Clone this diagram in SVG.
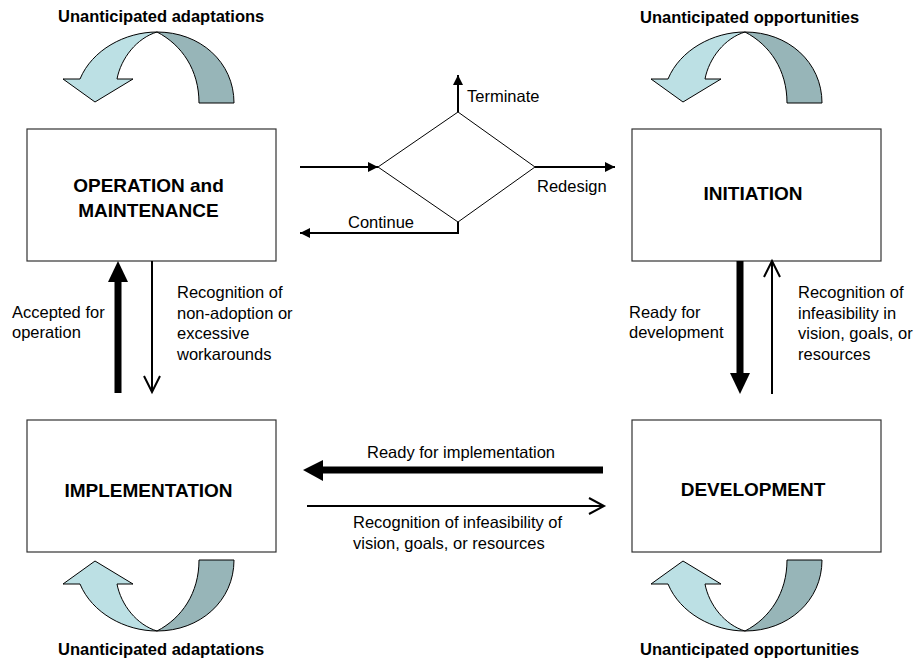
<svg xmlns="http://www.w3.org/2000/svg" xmlns:xlink="http://www.w3.org/1999/xlink" width="914" height="670" viewBox="0 0 914 670">
<style>
.box{fill:#fff;stroke:#333;stroke-width:1.2}
.bt{font-family:"Liberation Sans",Arial,sans-serif;font-weight:bold;font-size:19px;fill:#000;text-anchor:middle}
.lt{font-family:"Liberation Sans",Arial,sans-serif;font-size:16.5px;fill:#000}
.ht{font-family:"Liberation Sans",Arial,sans-serif;font-weight:bold;font-size:16.5px;fill:#000}
.ln{fill:none;stroke:#000;stroke-width:2}
.thin{fill:none;stroke:#000;stroke-width:1}
.fill{fill:#000;stroke:none}
.light{fill:#bce0e4;stroke:#000;stroke-width:1;stroke-linejoin:round}
.dark{fill:#97b5b8;stroke:#000;stroke-width:1;stroke-linejoin:round}
</style>
<defs>
<marker id="ah" markerUnits="userSpaceOnUse" markerWidth="10" markerHeight="10" refX="10" refY="5" orient="auto">
<path d="M0,0 L10,5 L0,10 Z" fill="#000"/>
</marker>
<g id="curl">
<path class="dark" d="M157,32 C200,32 234,62 234,103 L199,103 C199,70 182,45 157,32 Z"/>
<path class="light" d="M95,102 L63,79 L80,79 C92,50 125,32 157,32 C137,38 121,58 117,79 L133,79 Z"/>
</g>
</defs>

<g id="loop-top-left">
<use xlink:href="#curl"/>
<text class="ht" x="58" y="22">Unanticipated adaptations</text>
</g>
<g id="loop-top-right">
<use xlink:href="#curl" transform="translate(588,0)"/>
<text class="ht" x="640" y="23">Unanticipated opportunities</text>
</g>
<g id="loop-bottom-left">
<use xlink:href="#curl" transform="translate(0,663) scale(1,-1)"/>
<text class="ht" x="58" y="655">Unanticipated adaptations</text>
</g>
<g id="loop-bottom-right">
<use xlink:href="#curl" transform="translate(588,663) scale(1,-1)"/>
<text class="ht" x="640" y="655">Unanticipated opportunities</text>
</g>

<g id="operation">
<rect class="box" x="27" y="129" width="249" height="132"/>
<text class="bt" x="148.5" y="192">OPERATION and</text>
<text class="bt" x="148.5" y="217">MAINTENANCE</text>
</g>
<g id="initiation">
<rect class="box" x="632" y="129" width="249" height="132"/>
<text class="bt" x="753" y="200">INITIATION</text>
</g>
<g id="implementation">
<rect class="box" x="27" y="420" width="249" height="132"/>
<text class="bt" x="148.5" y="497">IMPLEMENTATION</text>
</g>
<g id="development">
<rect class="box" x="632" y="420" width="249" height="132"/>
<text class="bt" x="753" y="496">DEVELOPMENT</text>
</g>
<g id="decision">
<polygon class="thin" points="378,167 458,112 535,167 458,222"/>
</g>

<g id="connectors">
<line class="ln" x1="300" y1="167" x2="378" y2="167" marker-end="url(#ah)"/>
<line class="ln" x1="458" y1="112" x2="458" y2="75" marker-end="url(#ah)"/>
<line class="ln" x1="535" y1="167" x2="615" y2="167" marker-end="url(#ah)"/>
<polyline class="ln" points="458,222 458,233 300,233" marker-end="url(#ah)"/>
<text class="lt" x="467" y="102">Terminate</text>
<text class="lt" x="537" y="192">Redesign</text>
<text class="lt" x="348" y="228">Continue</text>

<rect class="fill" x="114.5" y="281" width="7" height="112"/>
<polygon class="fill" points="108,282 128,282 118,261"/>
<text class="lt" x="12" y="318">Accepted for</text>
<text class="lt" x="12" y="338">operation</text>

<line class="ln" x1="152" y1="261" x2="152" y2="391"/>
<polyline class="ln" points="144,376 152,392 160,376"/>
<text class="lt" x="177" y="298">Recognition of</text>
<text class="lt" x="177" y="318.5">non-adoption or</text>
<text class="lt" x="177" y="339">excessive</text>
<text class="lt" x="177" y="359.5">workarounds</text>

<rect class="fill" x="736.5" y="261" width="7" height="113"/>
<polygon class="fill" points="730,373 750,373 740,394"/>
<text class="lt" x="629" y="318">Ready for</text>
<text class="lt" x="629" y="338">development</text>

<line class="ln" x1="772" y1="394" x2="772" y2="262"/>
<polyline class="ln" points="764,277 772,261 780,277"/>
<text class="lt" x="798" y="298">Recognition of</text>
<text class="lt" x="798" y="318.5">infeasibility in</text>
<text class="lt" x="798" y="339">vision, goals, or</text>
<text class="lt" x="798" y="359.5">resources</text>

<rect class="fill" x="322" y="466.5" width="281" height="7"/>
<polygon class="fill" points="323,460 323,481 303,470"/>
<text class="lt" x="367" y="458">Ready for implementation</text>

<line class="ln" x1="307" y1="506" x2="603" y2="506"/>
<polyline class="ln" points="589,498 604,506 589,514"/>
<text class="lt" x="353" y="528">Recognition of infeasibility of</text>
<text class="lt" x="353" y="549">vision, goals, or resources</text>
</g>
</svg>
